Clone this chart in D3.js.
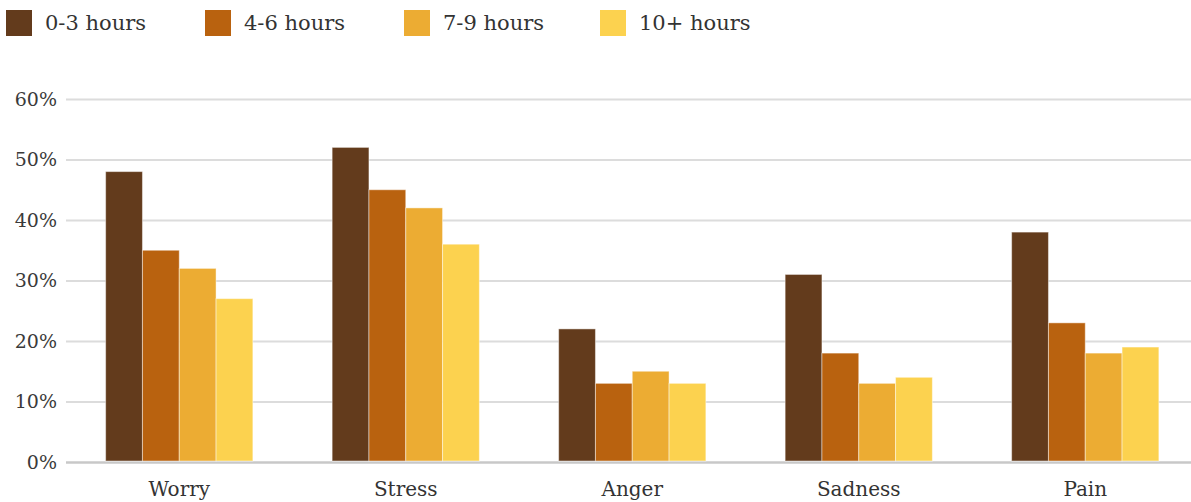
<!DOCTYPE html>
<html>
<head>
<meta charset="utf-8">
<script src="https://cdn.jsdelivr.net/npm/d3@7/dist/d3.min.js"></script>
<style>
  html, body { margin: 0; padding: 0; background: #fff; }
  svg { display: block; }
  svg text { font-family: "DejaVu Serif", Georgia, "Liberation Serif", serif; }
</style>
</head>
<body>
<svg id="chart" width="1191" height="502"></svg>
<script>
// Share of people reporting each feeling, by daily hours of screen time
const categories = ["Worry", "Stress", "Anger", "Sadness", "Pain"];
const seriesNames = ["0-3 hours", "4-6 hours", "7-9 hours", "10+ hours"];
const hours0to3 = [48, 52, 22, 31, 38];
const hours4to6 = [35, 45, 13, 18, 23];
const hours7to9 = [32, 42, 15, 13, 18];
const hours10plus = [27, 36, 13, 14, 19];
const tickValues = [0, 10, 20, 30, 40, 50, 60];
const colors = ["#633b1c", "#b9620f", "#ecac33", "#fcd24f"];

const seriesValues = [hours0to3, hours4to6, hours7to9, hours10plus];

const svg = d3.select("#chart");
const W = 1191, H = 502;
const plotLeft = 66, plotRight = 1198.5, plotTop = 99, plotBottom = 462;

const x = d3.scaleBand()
  .domain(categories)
  .range([plotLeft, plotRight])
  .paddingInner(0.35)
  .paddingOuter(0.175);

const xInner = d3.scaleBand()
  .domain(seriesNames)
  .range([0, x.bandwidth()])
  .padding(0);

const y = d3.scaleLinear().domain([0, 60]).range([plotBottom, plotTop]);

// Horizontal gridlines and percentage labels
const yAxis = d3.axisLeft(y)
  .tickValues(tickValues)
  .tickFormat(d => d + "%")
  .tickSize(-(W - plotLeft))
  .tickPadding(9);

const gy = svg.append("g")
  .attr("transform", `translate(${plotLeft},0)`)
  .call(yAxis)
  .attr("font-family", null);
gy.select(".domain").remove();
gy.selectAll(".tick line")
  .attr("stroke", d => d === 0 ? "#c8c8c8" : "#dcdcdc")
  .attr("stroke-width", d => d === 0 ? 2.5 : 1.8);
gy.selectAll(".tick text")
  .attr("fill", "#3a3a3a")
  .attr("font-size", 19)
  .attr("x", -9);

// Bars
const rows = categories.map((c, i) => ({
  category: c,
  values: seriesNames.map((s, j) => ({ series: s, value: seriesValues[j][i], idx: j }))
}));

const groups = svg.append("g").selectAll("g")
  .data(rows)
  .join("g")
  .attr("transform", d => `translate(${x(d.category)},0)`);

groups.selectAll("rect")
  .data(d => d.values)
  .join("rect")
  .attr("x", d => xInner(d.series))
  .attr("width", xInner.bandwidth())
  .attr("y", d => y(d.value))
  .attr("height", d => y(0) - y(d.value) - 1)
  .attr("fill", d => colors[d.idx])
  .attr("stroke", "rgba(255,255,255,0.45)")
  .attr("stroke-width", 1);

// Category labels
const xAxis = d3.axisBottom(x).tickSize(0).tickPadding(20);
const gx = svg.append("g")
  .attr("transform", `translate(0,${plotBottom})`)
  .call(xAxis)
  .attr("font-family", null);
gx.select(".domain").remove();
gx.selectAll(".tick text")
  .attr("fill", "#333")
  .attr("font-size", 20);

// Legend
const legendX = [6, 205, 404, 600];
const legend = svg.append("g").selectAll("g")
  .data(seriesNames)
  .join("g")
  .attr("transform", (d, i) => `translate(${legendX[i]},10)`);
legend.append("rect")
  .attr("width", 26)
  .attr("height", 26)
  .attr("fill", (d, i) => colors[i]);
legend.append("text")
  .attr("x", 39)
  .attr("y", 20)
  .attr("fill", "#333")
  .attr("font-size", 21)
  .text(d => d);
</script>
</body>
</html>
